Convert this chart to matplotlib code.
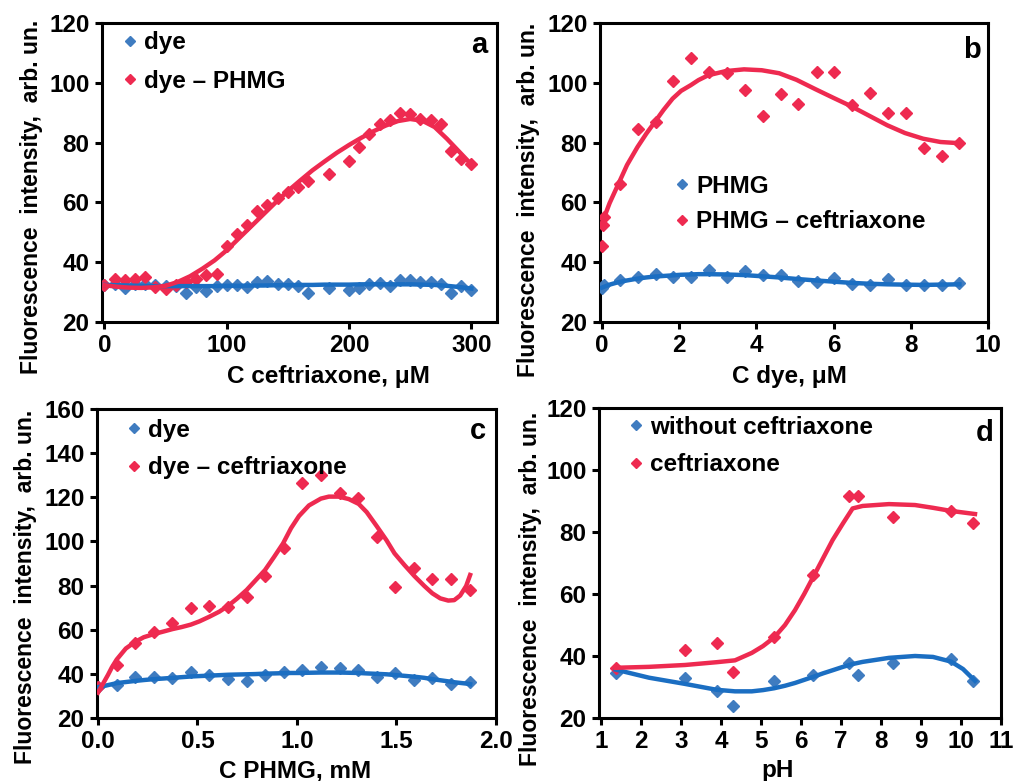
import matplotlib
matplotlib.use("Agg")
import matplotlib.pyplot as plt

plt.rcParams["font.family"] = ["Liberation Sans", "DejaVu Sans"]
plt.rcParams["font.weight"] = "bold"

BLUE_MK = "#3F7CC0"
BLUE_LN = "#1B6EC2"
RED = "#EE2A50"

# ---- panel a ----
a_x = [0, 8.3, 16.7, 25, 33.3, 41.7, 50, 58.3, 66.7, 75, 83.3, 91.7, 100, 108.3,
       116.7, 125, 133.3, 141.7, 150, 158.3, 166.7, 183.3, 200, 208.3, 216.7, 225,
       233.3, 241.7, 250, 258.3, 266.7, 275, 283.3, 291.7, 300]
a_dye = [32.4, 32.8, 31.5, 32.6, 32.8, 32.4, 32.2, 32.0, 29.8, 31.6, 30.4, 32.0,
         32.3, 32.3, 31.8, 33.4, 33.7, 32.6, 32.6, 32.0, 29.8, 31.5, 30.6, 31.5,
         32.6, 33.2, 32.0, 34.0, 34.0, 33.3, 33.3, 32.6, 29.8, 32.0, 30.6]
a_phmg = [32.4, 34.3, 34.0, 34.3, 34.9, 31.7, 31.0, 32.5, 33.5, 34.5, 35.8, 36.1,
          45.5, 49.5, 52.5, 57.0, 59.0, 61.5, 63.4, 65.0, 67.3, 69.6, 73.8, 78.5,
          83.0, 86.3, 87.4, 89.9, 89.7, 88.0, 87.4, 86.1, 77.1, 74.6, 72.7]
a_fit_x = [0, 10, 20, 30, 40, 50, 60, 70, 80, 90, 100, 110, 120, 130, 140, 150,
           160, 170, 180, 190, 200, 210, 220, 230, 240, 250, 260, 270, 280, 290, 300]
a_fit_phmg = [32.3, 31.8, 31.5, 31.4, 31.6, 32.1, 33.4, 35.3, 37.8, 40.6, 44.0,
              48.0, 52.0, 56.0, 60.0, 63.8, 67.3, 70.7, 73.7, 76.6, 79.2, 81.6,
              83.8, 85.7, 87.2, 87.9, 87.3, 85.2, 81.3, 77.0, 72.7]
a_fit_dye = [32.4, 32.3, 32.2, 32.1, 32.0, 32.0, 32.0, 32.0, 32.0, 32.0, 32.1,
             32.1, 32.2, 32.2, 32.3, 32.3, 32.4, 32.4, 32.5, 32.5, 32.5, 32.6,
             32.6, 32.6, 32.6, 32.6, 32.5, 32.4, 32.1, 31.7, 31.2]

# ---- panel b ----
b_x = [0, 0.02, 0.05, 0.46, 0.93, 1.39, 1.85, 2.31, 2.78, 3.24, 3.70, 4.17, 4.63,
       5.09, 5.56, 6.02, 6.48, 6.94, 7.41, 7.87, 8.33, 8.80, 9.26]
b_phmg = [31.5, 32.0, 32.5, 34.0, 34.9, 36.2, 35.1, 35.1, 37.3, 35.1, 37.1, 35.8,
          35.8, 33.6, 33.5, 34.7, 32.6, 32.4, 34.3, 32.4, 32.4, 32.4, 32.9]
b_ceft = [45.5, 52.4, 55.0, 66.0, 84.7, 86.9, 100.5, 108.2, 103.7, 103.3, 97.5,
          88.8, 96.4, 93.0, 103.7, 103.7, 92.5, 96.6, 89.9, 89.9, 78.2, 75.4, 79.8]
b_fit_x = [0, 0.2, 0.42, 0.65, 0.92, 1.15, 1.37, 1.6, 1.83, 2.05, 2.3, 2.5, 2.75,
           3.2, 3.68, 4.14, 4.59, 5.04, 5.54, 5.99, 6.45, 6.92, 7.39, 7.85, 8.32,
           8.77, 9.26]
b_fit_ceft = [53.0, 59.8, 66.0, 72.5, 78.5, 83.0, 86.9, 91.0, 94.7, 97.3, 99.2,
              100.9, 102.5, 103.9, 104.5, 104.2, 103.2, 101.0, 97.8, 95.0, 92.2,
              89.0, 85.8, 83.2, 81.3, 80.2, 79.8]
b_fit_phmg = [31.5, 32.5, 33.3, 33.9, 34.5, 34.9, 35.2, 35.4, 35.6, 35.8, 35.9,
              36.0, 36.0, 35.9, 35.7, 35.3, 34.9, 34.4, 33.9, 33.5, 33.1, 32.8,
              32.6, 32.5, 32.4, 32.5, 32.6]

# ---- panel c ----
c_x = [0, 0.094, 0.187, 0.28, 0.374, 0.467, 0.56, 0.654, 0.747, 0.84, 0.934,
       1.027, 1.12, 1.214, 1.307, 1.4, 1.494, 1.587, 1.68, 1.774, 1.867]
c_dye = [34.2, 35.0, 38.7, 38.7, 38.3, 41.0, 39.5, 37.5, 36.9, 39.5, 41.0, 41.7,
         43.2, 42.5, 41.7, 38.7, 40.5, 37.2, 38.0, 35.6, 36.4]
c_ceft = [34.2, 44.0, 53.8, 59.1, 63.2, 69.7, 70.7, 70.4, 75.0, 84.3, 96.8, 126.3,
          130.1, 122.1, 119.5, 102.2, 79.5, 87.8, 82.8, 82.8, 78.0]
c_fit_x = [0, 0.025, 0.05, 0.07, 0.094, 0.14, 0.187, 0.23, 0.28, 0.33, 0.375,
           0.42, 0.466, 0.51, 0.56, 0.61, 0.655, 0.7, 0.747, 0.79, 0.839, 0.885,
           0.93, 0.97, 1.01, 1.06, 1.12, 1.16, 1.21, 1.26, 1.31, 1.35, 1.40, 1.45,
           1.49, 1.54, 1.59, 1.64, 1.68, 1.72, 1.76, 1.79, 1.82, 1.85, 1.87]
c_fit_ceft = [31.5, 35.5, 39.5, 43.0, 46.5, 51.5, 54.5, 56.6, 58.0, 59.2, 60.3,
              61.2, 62.3, 63.8, 65.9, 68.2, 70.9, 74.2, 78.0, 82.2, 87.0, 93.0,
              99.1, 106.0, 111.5, 116.3, 119.4, 120.3, 120.3, 119.2, 117.0, 113.3,
              107.0, 100.5, 94.6, 89.3, 84.3, 79.8, 76.5, 74.2, 73.2, 73.4, 75.5,
              79.8, 84.8]
c_fit_dye = [34.0, 34.4, 34.9, 35.3, 35.8, 36.3, 36.8, 37.2, 37.6, 37.9, 38.2,
             38.5, 38.8, 39.0, 39.2, 39.4, 39.6, 39.7, 39.8, 39.9, 40.1, 40.2,
             40.3, 40.4, 40.4, 40.5, 40.6, 40.6, 40.6, 40.5, 40.4, 40.2, 40.0,
             39.8, 39.5, 39.1, 38.7, 38.2, 37.6, 37.1, 36.6, 36.2, 35.9, 35.6,
             35.3]

# ---- panel d ----
d_x = [1.37, 3.1, 3.89, 4.29, 5.33, 6.31, 7.21, 7.42, 8.31, 9.75, 10.31]
d_without = [34.6, 32.8, 28.8, 23.9, 31.9, 33.9, 37.8, 33.9, 37.8, 38.9, 31.9]
d_ceft = [36.2, 41.9, 44.1, 34.9, 46.2, 66.1, 91.6, 91.6, 84.9, 86.8, 82.8]
d_fit_x = [1.37, 2.2, 3.1, 3.89, 4.35, 4.77, 5.05, 5.33, 5.6, 5.85, 6.08, 6.31,
           6.55, 6.79, 7.05, 7.29, 7.54, 8.2, 8.85, 9.3, 9.75, 10.05, 10.35]
d_fit_ceft = [36.2, 36.5, 37.1, 38.0, 38.6, 41.0, 43.2, 46.0, 50.0, 54.8, 60.0,
              65.6, 71.5, 77.4, 82.8, 87.6, 88.4, 89.0, 88.7, 87.8, 86.8, 86.3,
              85.8]
d_fit_without = [35.6, 33.0, 31.0, 29.1, 28.6, 28.6, 29.0, 29.6, 30.4, 31.3, 32.3,
                 33.3, 34.4, 35.4, 36.5, 37.4, 38.1, 39.4, 40.0, 39.7, 38.2, 35.8,
                 32.0]

ylabel = "Fluorescence  intensity,  arb. un."

fig = plt.figure(figsize=(10.16, 7.81), dpi=100)


def px_axes(l, t, r, b):
    W, H = 1016, 781
    return fig.add_axes([l / W, 1 - b / H, (r - l) / W, (b - t) / H])


def style(ax, xlim, ylim, xticks, yticks, xfmt=None):
    ax.set_xlim(*xlim)
    ax.set_ylim(*ylim)
    ax.set_xticks(xticks)
    ax.set_yticks(yticks)
    if xfmt:
        ax.set_xticklabels([xfmt.format(v) for v in xticks])
    for s in ax.spines.values():
        s.set_linewidth(2.2)
    ax.tick_params(direction="out", length=5, width=2.2, labelsize=17.5, pad=4)
    for lab in ax.get_xticklabels() + ax.get_yticklabels():
        lab.set_fontweight("bold")


def draw(ax, x, y1, y2, fx, f1, f2, lab1, lab2, leg_pos, spacing):
    ax.plot(x, y1, "D", color=BLUE_MK, markersize=6.3, label=lab1, zorder=3)
    ax.plot(x, y2, "D", color=RED, markersize=6.3, label=lab2, zorder=3)
    ax.plot(fx, f1, "-", color=BLUE_LN, linewidth=3.2, zorder=4)
    ax.plot(fx, f2, "-", color=RED, linewidth=3.2, zorder=5)
    leg = ax.legend(loc="upper left", bbox_to_anchor=leg_pos, frameon=False,
                    handlelength=0.55, handletextpad=0.3,
                    labelspacing=spacing, borderpad=0, borderaxespad=0,
                    markerscale=0.8, prop={"weight": "bold", "size": 17.5})
    return leg


# a
ax = px_axes(102, 23, 497, 322)
draw(ax, a_x, a_dye, a_phmg, a_fit_x, a_fit_dye, a_fit_phmg,
     "dye", "dye \u2013 PHMG", (0.055, 0.973), 0.65)
style(ax, (-2, 321), (20, 120), [0, 100, 200, 300], range(20, 121, 20))
ax.text(0.955, 0.925, "a", transform=ax.transAxes, fontsize=21, fontweight="bold",
        ha="center", va="center")

# b
ax = px_axes(600, 23, 988, 322)
draw(ax, b_x, b_phmg, b_ceft, b_fit_x, b_fit_phmg, b_fit_ceft,
     "PHMG", "PHMG \u2013 ceftriaxone", (0.195, 0.493), 0.53)
style(ax, (-0.05, 10), (20, 120), range(0, 11, 2), range(20, 121, 20))
ax.text(0.96, 0.91, "b", transform=ax.transAxes, fontsize=21, fontweight="bold",
        ha="center", va="center")

# c
ax = px_axes(97, 409, 496, 718)
draw(ax, c_x, c_dye, c_ceft, c_fit_x, c_fit_dye, c_fit_ceft,
     "dye", "dye \u2013 ceftriaxone", (0.075, 0.969), 0.6)
style(ax, (-0.005, 2.0), (20, 160), [0, 0.5, 1.0, 1.5, 2.0], range(20, 161, 20),
      xfmt="{:.1f}")
ax.text(0.955, 0.93, "c", transform=ax.transAxes, fontsize=21, fontweight="bold",
        ha="center", va="center")

# d
ax = px_axes(599, 408, 1001, 718)
draw(ax, d_x, d_without, d_ceft, d_fit_x, d_fit_without, d_fit_ceft,
     "without ceftriaxone", "ceftriaxone", (0.075, 0.975), 0.6)
style(ax, (0.95, 11), (20, 120), range(1, 12), range(20, 121, 20))
ax.text(0.96, 0.92, "d", transform=ax.transAxes, fontsize=21, fontweight="bold",
        ha="center", va="center")

# axis titles
W, H = 1016, 781
for (x, y, s) in [(328, 377, "C ceftriaxone, \u03bcM"), (789, 377, "C dye, \u03bcM"),
                  (295, 771, "C PHMG, mM"), (778, 771, "pH")]:
    fig.text(x / W, 1 - y / H, s, fontsize=17.5, fontweight="bold",
             ha="center", va="center")
for (x, y) in [(32, 197), (529, 200), (26, 587), (530, 589)]:
    fig.text(x / W, 1 - y / H, ylabel, fontsize=16.5, fontweight="bold",
             rotation=90, ha="center", va="center")

fig.savefig("out.png", dpi=100)
